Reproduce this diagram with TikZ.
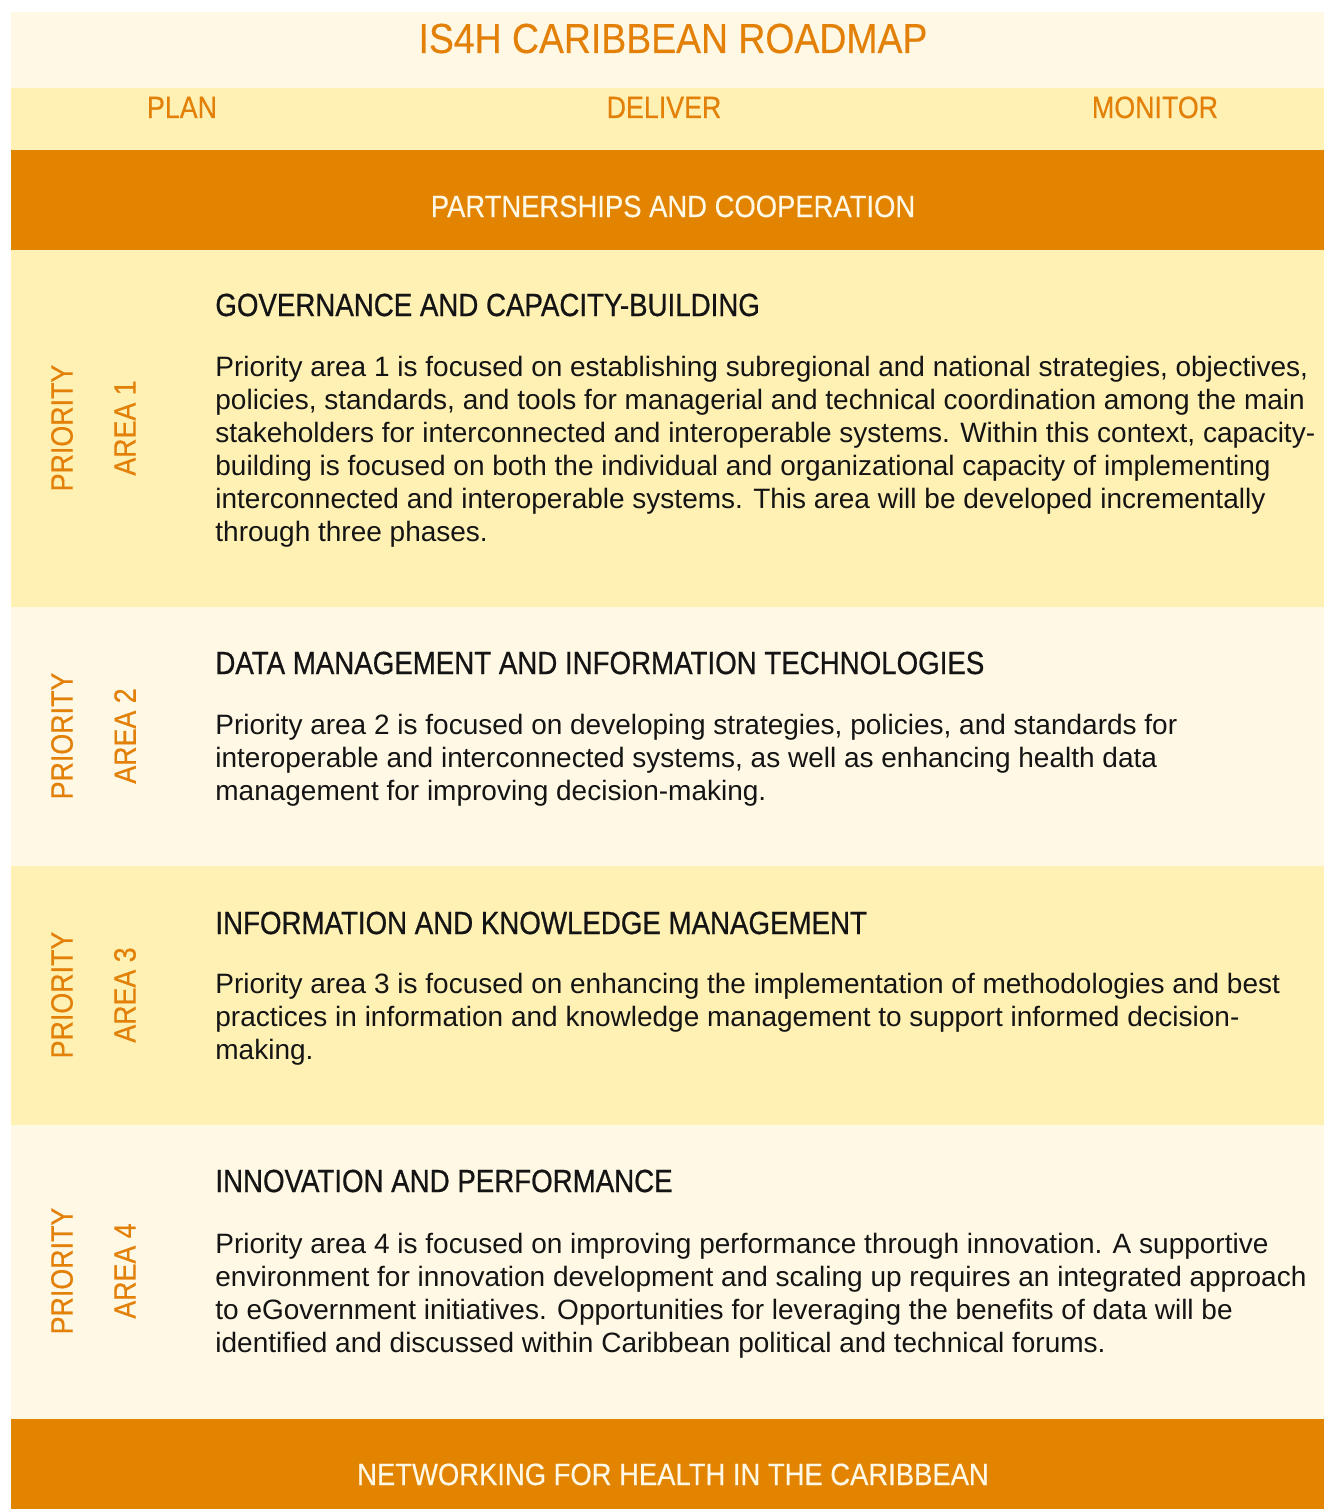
\documentclass[tikz,border=0pt]{standalone}
\usepackage{fontspec}
\setmainfont{Liberation Sans}
\newfontfamily\capsfont[FakeStretch=0.87,FakeBold=0.4]{Liberation Sans}
\newfontfamily\bannerfont[FakeStretch=0.89,FakeBold=0.3]{Liberation Sans}
\newfontfamily\headfont[FakeStretch=0.865,FakeBold=0.7]{Liberation Sans}
\newfontfamily\bodyfont{Liberation Sans}
\definecolor{roadorange}{HTML}{E38400}
\definecolor{roadcream}{HTML}{FFF8E4}
\definecolor{roadyellow}{HTML}{FFF0B4}
\definecolor{roadlabel}{HTML}{E28008}
\definecolor{roadink}{HTML}{141414}

\begin{document}
\begin{tikzpicture}[x=0.5pt,y=-0.5pt,
    stage/.style={anchor=base,inner sep=0pt,text=roadlabel,font=\capsfont\fontsize{15.4}{18}\selectfont},
    banner/.style={anchor=base,inner sep=0pt,text=roadcream,font=\bannerfont\fontsize{15.4}{18}\selectfont},
    sidelabel/.style={rotate=90,inner sep=0pt,text=roadlabel,font=\capsfont\fontsize{15.4}{18}\selectfont},
    areatitle/.style={anchor=base west,inner sep=0pt,text=roadink,font=\headfont\fontsize{16}{19}\selectfont},
    areatext/.style={anchor=base west,inner sep=0pt,align=left,text=roadink,font=\bodyfont\fontsize{14}{16.5}\selectfont}]
    \useasboundingbox (0,0) rectangle (1324,1509);

    % bands
    \fill[roadcream] (11,12) rectangle (1324,88);
    \fill[roadyellow] (11,88) rectangle (1324,150);
    \fill[roadorange] (11,150) rectangle (1324,250);
    \fill[roadyellow] (11,250) rectangle (1324,607);
    \fill[roadcream] (11,607) rectangle (1324,866);
    \fill[roadyellow] (11,866) rectangle (1324,1125);
    \fill[roadcream] (11,1125) rectangle (1324,1419);
    \fill[roadorange] (11,1419) rectangle (1324,1509);

    % header
    \node[stage,font=\bannerfont\fontsize{21}{24}\selectfont] (title) at (673,53) {IS4H CARIBBEAN ROADMAP};
    \node[stage] (plan) at (182,118) {PLAN};
    \node[stage] (deliver) at (664,118) {DELIVER};
    \node[stage] (monitor) at (1155,118) {MONITOR};
    \node[banner] (partners) at (673,217) {PARTNERSHIPS AND COOPERATION};

    % priority area 1 (text anchored on its last line)
    \node[sidelabel] (pri1) at (62,428) {PRIORITY};
    \node[sidelabel] (area1) at (125,428) {AREA 1};
    \node[areatitle] (head1) at (215,316) {GOVERNANCE AND CAPACITY-BUILDING};
    \node[areatext] (text1) at (215,541) {Priority area 1 is focused on establishing subregional and national strategies, objectives,\\
        policies, standards, and tools for managerial and technical coordination among the main\\
        stakeholders for interconnected and interoperable systems. Within this context, capacity-\\
        building is focused on both the individual and organizational capacity of implementing\\
        interconnected and interoperable systems. This area will be developed incrementally\\
        through three phases.};

    % priority area 2
    \node[sidelabel] (pri2) at (62,736) {PRIORITY};
    \node[sidelabel] (area2) at (125,736) {AREA 2};
    \node[areatitle] (head2) at (215,674) {DATA MANAGEMENT AND INFORMATION TECHNOLOGIES};
    \node[areatext] (text2) at (215,800) {Priority area 2 is focused on developing strategies, policies, and standards for\\
        interoperable and interconnected systems, as well as enhancing health data\\
        management for improving decision-making.};

    % priority area 3
    \node[sidelabel] (pri3) at (62,995) {PRIORITY};
    \node[sidelabel] (area3) at (125,995) {AREA 3};
    \node[areatitle] (head3) at (215,934) {INFORMATION AND KNOWLEDGE MANAGEMENT};
    \node[areatext] (text3) at (215,1059) {Priority area 3 is focused on enhancing the implementation of methodologies and best\\
        practices in information and knowledge management to support informed decision-\\
        making.};

    % priority area 4
    \node[sidelabel] (pri4) at (62,1271) {PRIORITY};
    \node[sidelabel] (area4) at (125,1271) {AREA 4};
    \node[areatitle] (head4) at (215,1192) {INNOVATION AND PERFORMANCE};
    \node[areatext] (text4) at (215,1352) {Priority area 4 is focused on improving performance through innovation. A supportive\\
        environment for innovation development and scaling up requires an integrated approach\\
        to eGovernment initiatives. Opportunities for leveraging the benefits of data will be\\
        identified and discussed within Caribbean political and technical forums.};

    % footer
    \node[banner] (network) at (673,1485) {NETWORKING FOR HEALTH IN THE CARIBBEAN};
\end{tikzpicture}
\end{document}
